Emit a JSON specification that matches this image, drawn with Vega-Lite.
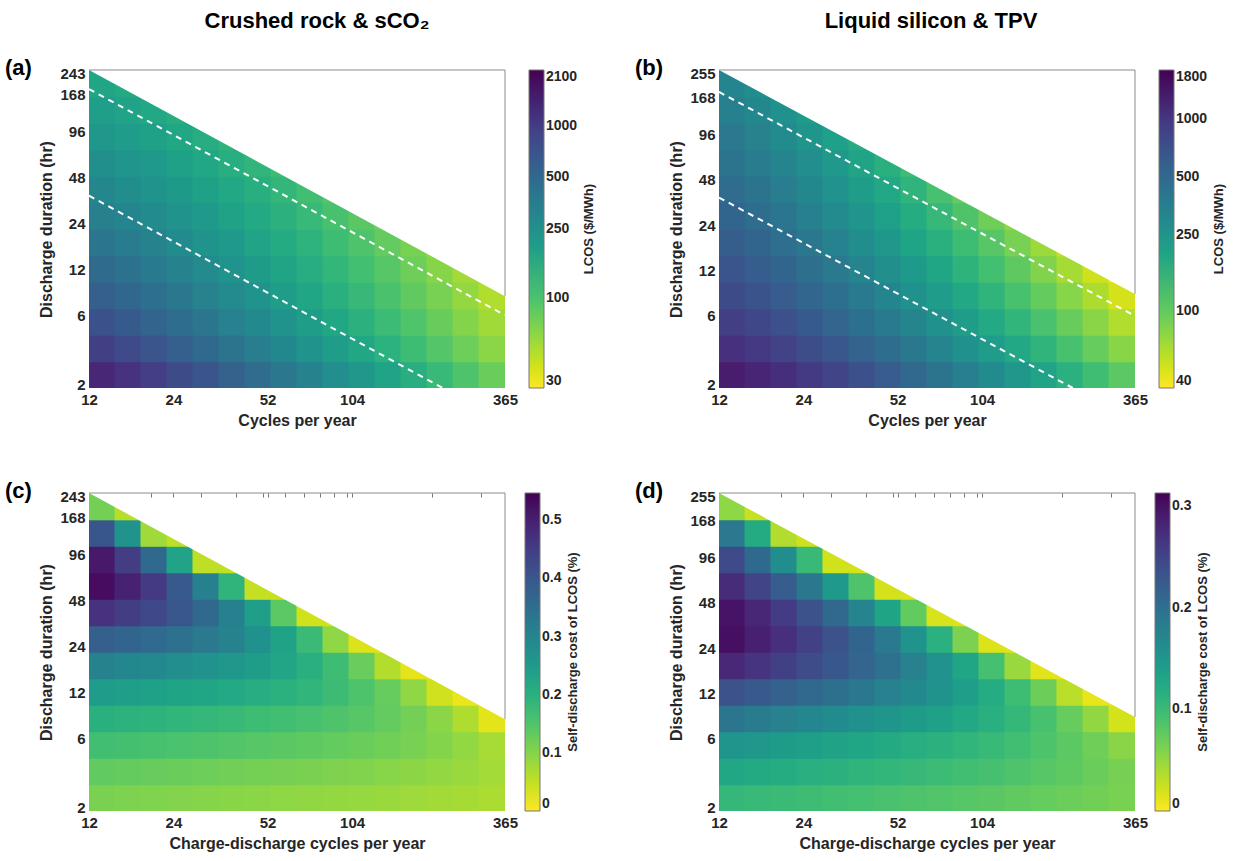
{
"$schema":"https://vega.github.io/schema/vega-lite/v6.json",
"background":"white",
"padding":{"left":5,"top":10,"right":5,"bottom":5},
"config":{
 "font":"Liberation Sans",
 "view":{"stroke":null},
 "axis":{"grid":false,"domain":false,"ticks":false,"labelFontSize":15,"labelFontWeight":"bold","labelColor":"#262626","titleFontSize":16,"titleFontWeight":"bold","titleColor":"#262626","labelPadding":4,"titlePadding":5,"labelFlush":false,"labelOverlap":false},
 "axisY":{"labelFlush":true,"labelFlushOffset":4},
 "legend":{"gradientLength":318,"gradientThickness":15,"gradientStrokeColor":"#777","gradientStrokeWidth":1,"labelFontSize":14,"labelFontWeight":"bold","labelColor":"#262626","labelOffset":4,"labelOverlap":false,"titleOrient":"right","titleAnchor":"middle","titleFontSize":13,"titleFontWeight":"bold","titleColor":"#262626","titlePadding":6,"titleLimit":400,"offset":20},
 "title":{"font":"Liberation Sans","color":"#000"}
},
"spacing":38,
"resolve":{"scale":{"color":"independent"},"legend":{"color":"independent"}},
"hconcat":[
 {"title":{"text":"Crushed rock & sCO₂","anchor":"middle","fontSize":22,"fontWeight":"bold","offset":24,"dx":16},
  "spacing":52,
  "resolve":{"scale":{"color":"independent"},"legend":{"color":"independent"}},
  "vconcat":[
   {"title":{"text":"(a)","anchor":"start","frame":"group","dx":-84,"offset":-14,"fontSize":22,"fontWeight":"bold"},
    "width":416,"height":318,
    "layer":[
     {"data":{"name":"a"},"mark":{"type":"rect","width":27,"height":28,"clip":true},
      "encoding":{
       "x":{"field":"c","type":"quantitative","scale":{"type":"log","domain":[12,365],"nice":false},"axis":{"values":[12,24,52,104,365],"title":"Cycles per year"}},
       "y":{"field":"d","type":"quantitative","scale":{"type":"log","domain":[2,243.3],"nice":false},"axis":{"values":[2,6,12,24,48,96,168,243],"title":"Discharge duration (hr)"}},
       "color":{"field":"v","type":"quantitative","scale":{"type":"log","domain":[30,2100],"scheme":"viridis","reverse":true},"legend":{"title":"LCOS ($/MWh)","values":[30,100,250,500,1000,2100],"format":"d","encode":{"title":{"update":{"angle":{"value":270},"baseline":{"value":"top"},"align":{"value":"center"}}}}}}}},
     {"data":{"name":"ma"},"mark":{"type":"area","color":"white"},
      "encoding":{"x":{"field":"c","type":"quantitative","axis":null},"y":{"field":"d","type":"quantitative","axis":null},"y2":{"datum":243.3}}},
     {"data":{"name":"dl"},"mark":{"type":"line","color":"white","strokeDash":[6,5],"strokeWidth":2},
      "encoding":{"x":{"field":"c","type":"quantitative","axis":null},"y":{"field":"d","type":"quantitative","axis":null},"detail":{"field":"g"}}},
     {"data":{"name":"fa"},"mark":{"type":"rule","color":"#8c8c8c","strokeWidth":1},
      "encoding":{"x":{"field":"c","type":"quantitative","axis":null},"x2":{"field":"c2"},"y":{"field":"d","type":"quantitative","axis":null},"y2":{"field":"d2"}}}
    ],
    "resolve":{"axis":{"x":"independent","y":"independent"}}},
   {"title":{"text":"(c)","anchor":"start","frame":"group","dx":-84,"offset":-14,"fontSize":22,"fontWeight":"bold"},
    "width":416,"height":318,
    "layer":[
     {"data":{"name":"c"},"mark":{"type":"rect","width":27,"height":28,"clip":true},
      "encoding":{
       "x":{"field":"c","type":"quantitative","scale":{"type":"log","domain":[12,365],"nice":false},"axis":{"values":[12,24,52,104,365],"title":"Charge-discharge cycles per year"}},
       "y":{"field":"d","type":"quantitative","scale":{"type":"log","domain":[2,243.3],"nice":false},"axis":{"values":[2,6,12,24,48,96,168,243],"title":"Discharge duration (hr)"}},
       "color":{"field":"v","type":"quantitative","scale":{"domain":[0,0.547],"scheme":"viridis","reverse":true},"legend":{"title":"Self-discharge cost of LCOS (%)","values":[0,0.1,0.2,0.3,0.4,0.5],"format":".1~f","encode":{"title":{"update":{"angle":{"value":270},"baseline":{"value":"top"},"align":{"value":"center"}}}}}}}},
     {"data":{"name":"ma"},"mark":{"type":"area","color":"white"},
      "encoding":{"x":{"field":"c","type":"quantitative","axis":null},"y":{"field":"d","type":"quantitative","axis":null},"y2":{"datum":243.3}}},
     {"data":{"name":"fa"},"mark":{"type":"rule","color":"#8c8c8c","strokeWidth":1},
      "encoding":{"x":{"field":"c","type":"quantitative","axis":{"orient":"top","values":[20,24,30,40,50,52,60,70,80,90,100,104,200,300],"labels":false,"domain":false,"ticks":true,"tickSize":-4,"tickColor":"#777","title":null,"zindex":1}},"x2":{"field":"c2"},"y":{"field":"d","type":"quantitative","axis":null},"y2":{"field":"d2"}}}
    ],
    "resolve":{"axis":{"x":"independent","y":"independent"}}}
  ]},
 {"title":{"text":"Liquid silicon & TPV","anchor":"middle","fontSize":22,"fontWeight":"bold","offset":24,"dx":0},
  "spacing":52,
  "resolve":{"scale":{"color":"independent"},"legend":{"color":"independent"}},
  "vconcat":[
   {"title":{"text":"(b)","anchor":"start","frame":"group","dx":-84,"offset":-14,"fontSize":22,"fontWeight":"bold"},
    "width":416,"height":318,
    "layer":[
     {"data":{"name":"b"},"mark":{"type":"rect","width":27,"height":28,"clip":true},
      "encoding":{
       "x":{"field":"c","type":"quantitative","scale":{"type":"log","domain":[12,365],"nice":false},"axis":{"values":[12,24,52,104,365],"title":"Cycles per year"}},
       "y":{"field":"d","type":"quantitative","scale":{"type":"log","domain":[2,255],"nice":false},"axis":{"values":[2,6,12,24,48,96,168,255],"title":"Discharge duration (hr)"}},
       "color":{"field":"v","type":"quantitative","scale":{"type":"log","domain":[40,1800],"scheme":"viridis","reverse":true},"legend":{"title":"LCOS ($/MWh)","values":[40,100,250,500,1000,1800],"format":"d","encode":{"title":{"update":{"angle":{"value":270},"baseline":{"value":"top"},"align":{"value":"center"}}}}}}}},
     {"data":{"name":"mb"},"mark":{"type":"area","color":"white"},
      "encoding":{"x":{"field":"c","type":"quantitative","axis":null},"y":{"field":"d","type":"quantitative","axis":null},"y2":{"datum":255}}},
     {"data":{"name":"dl"},"mark":{"type":"line","color":"white","strokeDash":[6,5],"strokeWidth":2},
      "encoding":{"x":{"field":"c","type":"quantitative","axis":null},"y":{"field":"d","type":"quantitative","axis":null},"detail":{"field":"g"}}},
     {"data":{"name":"fb"},"mark":{"type":"rule","color":"#8c8c8c","strokeWidth":1},
      "encoding":{"x":{"field":"c","type":"quantitative","axis":null},"x2":{"field":"c2"},"y":{"field":"d","type":"quantitative","axis":null},"y2":{"field":"d2"}}}
    ],
    "resolve":{"axis":{"x":"independent","y":"independent"}}},
   {"title":{"text":"(d)","anchor":"start","frame":"group","dx":-84,"offset":-14,"fontSize":22,"fontWeight":"bold"},
    "width":416,"height":318,
    "layer":[
     {"data":{"name":"d"},"mark":{"type":"rect","width":27,"height":28,"clip":true},
      "encoding":{
       "x":{"field":"c","type":"quantitative","scale":{"type":"log","domain":[12,365],"nice":false},"axis":{"values":[12,24,52,104,365],"title":"Charge-discharge cycles per year"}},
       "y":{"field":"d","type":"quantitative","scale":{"type":"log","domain":[2,255],"nice":false},"axis":{"values":[2,6,12,24,48,96,168,255],"title":"Discharge duration (hr)"}},
       "color":{"field":"v","type":"quantitative","scale":{"domain":[0,0.313],"scheme":"viridis","reverse":true},"legend":{"title":"Self-discharge cost of LCOS (%)","values":[0,0.1,0.2,0.3],"format":".1~f","encode":{"title":{"update":{"angle":{"value":270},"baseline":{"value":"top"},"align":{"value":"center"}}}}}}}},
     {"data":{"name":"mb"},"mark":{"type":"area","color":"white"},
      "encoding":{"x":{"field":"c","type":"quantitative","axis":null},"y":{"field":"d","type":"quantitative","axis":null},"y2":{"datum":255}}},
     {"data":{"name":"fb"},"mark":{"type":"rule","color":"#8c8c8c","strokeWidth":1},
      "encoding":{"x":{"field":"c","type":"quantitative","axis":{"orient":"top","values":[20,24,30,40,50,52,60,70,80,90,100,104,200,300],"labels":false,"domain":false,"ticks":true,"tickSize":-4,"tickColor":"#777","title":null,"zindex":1}},"x2":{"field":"c2"},"y":{"field":"d","type":"quantitative","axis":null},"y2":{"field":"d2"}}}
    ],
    "resolve":{"axis":{"x":"independent","y":"independent"}}}
  ]}
],
"datasets":{
"ma":[{"c":12,"d":243.3},{"c":365,"d":8}],
"mb":[{"c":12,"d":255},{"c":365,"d":8.384}],
"fa":[{"c":12,"c2":365,"d":243.3,"d2":243.3},{"c":365,"c2":365,"d":8,"d2":243.3}],
"fb":[{"c":12,"c2":365,"d":255,"d2":255},{"c":365,"c2":365,"d":8.384,"d2":255}],
"dl":[{"c":12,"d":182.5,"g":1},{"c":365,"d":6,"g":1},{"c":12,"d":36.5,"g":2},{"c":219,"d":2,"g":2}],
"a":[
{"c":13.35,"d":2.443,"v":1344},{"c":13.35,"d":3.644,"v":950},{"c":13.35,"d":5.437,"v":734},{"c":13.35,"d":8.111,"v":589},{"c":13.35,"d":12.1,"v":486},{"c":13.35,"d":18.05,"v":407},{"c":13.35,"d":26.93,"v":344},{"c":13.35,"d":40.17,"v":295},{"c":13.35,"d":59.93,"v":255},{"c":13.35,"d":89.4,"v":222},{"c":13.35,"d":133.4,"v":194},{"c":13.35,"d":199,"v":171},
{"c":16.53,"d":2.443,"v":1150},{"c":16.53,"d":3.644,"v":819},{"c":16.53,"d":5.437,"v":638},{"c":16.53,"d":8.111,"v":516},{"c":16.53,"d":12.1,"v":428},{"c":16.53,"d":18.05,"v":361},{"c":16.53,"d":26.93,"v":309},{"c":16.53,"d":40.17,"v":267},{"c":16.53,"d":59.93,"v":233},{"c":16.53,"d":89.4,"v":204},{"c":16.53,"d":133.4,"v":180},{"c":16.53,"d":199,"v":160},
{"c":20.46,"d":2.443,"v":975},{"c":20.46,"d":3.644,"v":699},{"c":20.46,"d":5.437,"v":549},{"c":20.46,"d":8.111,"v":447},{"c":20.46,"d":12.1,"v":374},{"c":20.46,"d":18.05,"v":318},{"c":20.46,"d":26.93,"v":274},{"c":20.46,"d":40.17,"v":239},{"c":20.46,"d":59.93,"v":210},{"c":20.46,"d":89.4,"v":185},{"c":20.46,"d":133.4,"v":164},
{"c":25.33,"d":2.443,"v":818},{"c":25.33,"d":3.644,"v":592},{"c":25.33,"d":5.437,"v":468},{"c":25.33,"d":8.111,"v":384},{"c":25.33,"d":12.1,"v":324},{"c":25.33,"d":18.05,"v":278},{"c":25.33,"d":26.93,"v":241},{"c":25.33,"d":40.17,"v":212},{"c":25.33,"d":59.93,"v":187},{"c":25.33,"d":89.4,"v":167},{"c":25.33,"d":133.4,"v":149},
{"c":31.35,"d":2.443,"v":685},{"c":31.35,"d":3.644,"v":499},{"c":31.35,"d":5.437,"v":398},{"c":31.35,"d":8.111,"v":329},{"c":31.35,"d":12.1,"v":280},{"c":31.35,"d":18.05,"v":242},{"c":31.35,"d":26.93,"v":211},{"c":31.35,"d":40.17,"v":187},{"c":31.35,"d":59.93,"v":167},{"c":31.35,"d":89.4,"v":149},
{"c":38.81,"d":2.443,"v":570},{"c":38.81,"d":3.644,"v":418},{"c":38.81,"d":5.437,"v":335},{"c":38.81,"d":8.111,"v":280},{"c":38.81,"d":12.1,"v":240},{"c":38.81,"d":18.05,"v":209},{"c":38.81,"d":26.93,"v":184},{"c":38.81,"d":40.17,"v":164},{"c":38.81,"d":59.93,"v":147},{"c":38.81,"d":89.4,"v":133},
{"c":48.05,"d":2.443,"v":473},{"c":48.05,"d":3.644,"v":350},{"c":48.05,"d":5.437,"v":283},{"c":48.05,"d":8.111,"v":238},{"c":48.05,"d":12.1,"v":206},{"c":48.05,"d":18.05,"v":180},{"c":48.05,"d":26.93,"v":160},{"c":48.05,"d":40.17,"v":144},{"c":48.05,"d":59.93,"v":130},
{"c":59.48,"d":2.443,"v":391},{"c":59.48,"d":3.644,"v":291},{"c":59.48,"d":5.437,"v":238},{"c":59.48,"d":8.111,"v":201},{"c":59.48,"d":12.1,"v":175},{"c":59.48,"d":18.05,"v":155},{"c":59.48,"d":26.93,"v":139},{"c":59.48,"d":40.17,"v":126},{"c":59.48,"d":59.93,"v":115},
{"c":73.63,"d":2.443,"v":322},{"c":73.63,"d":3.644,"v":243},{"c":73.63,"d":5.437,"v":199},{"c":73.63,"d":8.111,"v":170},{"c":73.63,"d":12.1,"v":149},{"c":73.63,"d":18.05,"v":133},{"c":73.63,"d":26.93,"v":120},{"c":73.63,"d":40.17,"v":109},
{"c":91.15,"d":2.443,"v":265},{"c":91.15,"d":3.644,"v":201},{"c":91.15,"d":5.437,"v":166},{"c":91.15,"d":8.111,"v":143},{"c":91.15,"d":12.1,"v":127},{"c":91.15,"d":18.05,"v":114},{"c":91.15,"d":26.93,"v":103},{"c":91.15,"d":40.17,"v":95},
{"c":112.8,"d":2.443,"v":218},{"c":112.8,"d":3.644,"v":167},{"c":112.8,"d":5.437,"v":139},{"c":112.8,"d":8.111,"v":121},{"c":112.8,"d":12.1,"v":107},{"c":112.8,"d":18.05,"v":97},{"c":112.8,"d":26.93,"v":89},
{"c":139.7,"d":2.443,"v":179},{"c":139.7,"d":3.644,"v":138},{"c":139.7,"d":5.437,"v":116},{"c":139.7,"d":8.111,"v":101},{"c":139.7,"d":12.1,"v":91},{"c":139.7,"d":18.05,"v":83},{"c":139.7,"d":26.93,"v":76.5},
{"c":172.9,"d":2.443,"v":147},{"c":172.9,"d":3.644,"v":114},{"c":172.9,"d":5.437,"v":96},{"c":172.9,"d":8.111,"v":85},{"c":172.9,"d":12.1,"v":77},{"c":172.9,"d":18.05,"v":70.5},
{"c":214,"d":2.443,"v":119},{"c":214,"d":3.644,"v":93},{"c":214,"d":5.437,"v":80},{"c":214,"d":8.111,"v":71},{"c":214,"d":12.1,"v":64.5},{"c":214,"d":18.05,"v":59.7},
{"c":265,"d":2.443,"v":98},{"c":265,"d":3.644,"v":77},{"c":265,"d":5.437,"v":66},{"c":265,"d":8.111,"v":59},{"c":265,"d":12.1,"v":54},
{"c":328,"d":2.443,"v":79},{"c":328,"d":3.644,"v":63},{"c":328,"d":5.437,"v":54.7},{"c":328,"d":8.111,"v":49}
],
"b":[
{"c":13.35,"d":2.448,"v":1352},{"c":13.35,"d":3.666,"v":1066},{"c":13.35,"d":5.491,"v":893},{"c":13.35,"d":8.225,"v":767},{"c":13.35,"d":12.32,"v":670},{"c":13.35,"d":18.45,"v":592},{"c":13.35,"d":27.63,"v":528},{"c":13.35,"d":41.39,"v":474},{"c":13.35,"d":62,"v":428},{"c":13.35,"d":92.86,"v":388},{"c":13.35,"d":139.1,"v":353},{"c":13.35,"d":208.3,"v":323},
{"c":16.53,"d":2.448,"v":1229},{"c":16.53,"d":3.666,"v":966},{"c":16.53,"d":5.491,"v":805},{"c":16.53,"d":8.225,"v":689},{"c":16.53,"d":12.32,"v":600},{"c":16.53,"d":18.45,"v":529},{"c":16.53,"d":27.63,"v":469},{"c":16.53,"d":41.39,"v":420},{"c":16.53,"d":62,"v":378},{"c":16.53,"d":92.86,"v":341},{"c":16.53,"d":139.1,"v":309},{"c":16.53,"d":208.3,"v":282},
{"c":20.46,"d":2.448,"v":1094},{"c":20.46,"d":3.666,"v":856},{"c":20.46,"d":5.491,"v":712},{"c":20.46,"d":8.225,"v":607},{"c":20.46,"d":12.32,"v":527},{"c":20.46,"d":18.45,"v":462},{"c":20.46,"d":27.63,"v":409},{"c":20.46,"d":41.39,"v":364},{"c":20.46,"d":62,"v":327},{"c":20.46,"d":92.86,"v":294},{"c":20.46,"d":139.1,"v":266},
{"c":25.33,"d":2.448,"v":957},{"c":25.33,"d":3.666,"v":746},{"c":25.33,"d":5.491,"v":618},{"c":25.33,"d":8.225,"v":525},{"c":25.33,"d":12.32,"v":454},{"c":25.33,"d":18.45,"v":397},{"c":25.33,"d":27.63,"v":350},{"c":25.33,"d":41.39,"v":311},{"c":25.33,"d":62,"v":278},{"c":25.33,"d":92.86,"v":249},{"c":25.33,"d":139.1,"v":224},
{"c":31.35,"d":2.448,"v":829},{"c":31.35,"d":3.666,"v":644},{"c":31.35,"d":5.491,"v":532},{"c":31.35,"d":8.225,"v":450},{"c":31.35,"d":12.32,"v":388},{"c":31.35,"d":18.45,"v":338},{"c":31.35,"d":27.63,"v":297},{"c":31.35,"d":41.39,"v":263},{"c":31.35,"d":62,"v":234},{"c":31.35,"d":92.86,"v":209},
{"c":38.81,"d":2.448,"v":709},{"c":38.81,"d":3.666,"v":549},{"c":38.81,"d":5.491,"v":452},{"c":38.81,"d":8.225,"v":381},{"c":38.81,"d":12.32,"v":327},{"c":38.81,"d":18.45,"v":284},{"c":38.81,"d":27.63,"v":249},{"c":38.81,"d":41.39,"v":219},{"c":38.81,"d":62,"v":194.5},{"c":38.81,"d":92.86,"v":173},
{"c":48.05,"d":2.448,"v":603},{"c":48.05,"d":3.666,"v":466},{"c":48.05,"d":5.491,"v":381},{"c":48.05,"d":8.225,"v":321},{"c":48.05,"d":12.32,"v":274},{"c":48.05,"d":18.45,"v":237},{"c":48.05,"d":27.63,"v":207},{"c":48.05,"d":41.39,"v":182},{"c":48.05,"d":62,"v":161},
{"c":59.48,"d":2.448,"v":508},{"c":59.48,"d":3.666,"v":390},{"c":59.48,"d":5.491,"v":319},{"c":59.48,"d":8.225,"v":267},{"c":59.48,"d":12.32,"v":228},{"c":59.48,"d":18.45,"v":196},{"c":59.48,"d":27.63,"v":171},{"c":59.48,"d":41.39,"v":149},{"c":59.48,"d":62,"v":131},
{"c":73.63,"d":2.448,"v":426},{"c":73.63,"d":3.666,"v":326},{"c":73.63,"d":5.491,"v":266},{"c":73.63,"d":8.225,"v":222},{"c":73.63,"d":12.32,"v":188},{"c":73.63,"d":18.45,"v":162},{"c":73.63,"d":27.63,"v":140},{"c":73.63,"d":41.39,"v":122},
{"c":91.15,"d":2.448,"v":354},{"c":91.15,"d":3.666,"v":270},{"c":91.15,"d":5.491,"v":219},{"c":91.15,"d":8.225,"v":182},{"c":91.15,"d":12.32,"v":154},{"c":91.15,"d":18.45,"v":132},{"c":91.15,"d":27.63,"v":114},{"c":91.15,"d":41.39,"v":99},
{"c":112.8,"d":2.448,"v":293},{"c":112.8,"d":3.666,"v":223},{"c":112.8,"d":5.491,"v":180},{"c":112.8,"d":8.225,"v":149},{"c":112.8,"d":12.32,"v":126},{"c":112.8,"d":18.45,"v":107.5},{"c":112.8,"d":27.63,"v":92},
{"c":139.7,"d":2.448,"v":241},{"c":139.7,"d":3.666,"v":183},{"c":139.7,"d":5.491,"v":147},{"c":139.7,"d":8.225,"v":121},{"c":139.7,"d":12.32,"v":102},{"c":139.7,"d":18.45,"v":86.7},{"c":139.7,"d":27.63,"v":74.3},
{"c":172.9,"d":2.448,"v":197},{"c":172.9,"d":3.666,"v":149},{"c":172.9,"d":5.491,"v":119.5},{"c":172.9,"d":8.225,"v":98.3},{"c":172.9,"d":12.32,"v":82.3},{"c":172.9,"d":18.45,"v":69.8},
{"c":214,"d":2.448,"v":160},{"c":214,"d":3.666,"v":120.7},{"c":214,"d":5.491,"v":96.5},{"c":214,"d":8.225,"v":79.1},{"c":214,"d":12.32,"v":66},{"c":214,"d":18.45,"v":55.7},
{"c":265,"d":2.448,"v":130},{"c":265,"d":3.666,"v":97.7},{"c":265,"d":5.491,"v":77.9},{"c":265,"d":8.225,"v":63.5},{"c":265,"d":12.32,"v":52.9},
{"c":328,"d":2.448,"v":105},{"c":328,"d":3.666,"v":78.5},{"c":328,"d":5.491,"v":62.3},{"c":328,"d":8.225,"v":50.7},{"c":328,"d":12.32,"v":42}
],
"c":[
{"c":13.35,"d":2.443,"v":0.109},{"c":13.35,"d":3.644,"v":0.133},{"c":13.35,"d":5.437,"v":0.167},{"c":13.35,"d":8.111,"v":0.201},{"c":13.35,"d":12.1,"v":0.247},{"c":13.35,"d":18.05,"v":0.305},{"c":13.35,"d":26.93,"v":0.382},{"c":13.35,"d":40.17,"v":0.469},{"c":13.35,"d":59.93,"v":0.531},{"c":13.35,"d":89.4,"v":0.514},{"c":13.35,"d":133.4,"v":0.401},{"c":13.35,"d":199,"v":0.115},
{"c":16.53,"d":2.443,"v":0.107},{"c":16.53,"d":3.644,"v":0.130},{"c":16.53,"d":5.437,"v":0.163},{"c":16.53,"d":8.111,"v":0.196},{"c":16.53,"d":12.1,"v":0.2415},{"c":16.53,"d":18.05,"v":0.297},{"c":16.53,"d":26.93,"v":0.371},{"c":16.53,"d":40.17,"v":0.450},{"c":16.53,"d":59.93,"v":0.498},{"c":16.53,"d":89.4,"v":0.450},{"c":16.53,"d":133.4,"v":0.268},{"c":16.53,"d":199,"v":0.059},
{"c":20.46,"d":2.443,"v":0.104},{"c":20.46,"d":3.644,"v":0.127},{"c":20.46,"d":5.437,"v":0.159},{"c":20.46,"d":8.111,"v":0.1915},{"c":20.46,"d":12.1,"v":0.2356},{"c":20.46,"d":18.05,"v":0.289},{"c":20.46,"d":26.93,"v":0.359},{"c":20.46,"d":40.17,"v":0.428},{"c":20.46,"d":59.93,"v":0.455},{"c":20.46,"d":89.4,"v":0.3615},{"c":20.46,"d":133.4,"v":0.078},
{"c":25.33,"d":2.443,"v":0.102},{"c":25.33,"d":3.644,"v":0.124},{"c":25.33,"d":5.437,"v":0.155},{"c":25.33,"d":8.111,"v":0.187},{"c":25.33,"d":12.1,"v":0.229},{"c":25.33,"d":18.05,"v":0.280},{"c":25.33,"d":26.93,"v":0.344},{"c":25.33,"d":40.17,"v":0.400},{"c":25.33,"d":59.93,"v":0.395},{"c":25.33,"d":89.4,"v":0.2305},{"c":25.33,"d":133.4,"v":0.055},
{"c":31.35,"d":2.443,"v":0.0995},{"c":31.35,"d":3.644,"v":0.121},{"c":31.35,"d":5.437,"v":0.1516},{"c":31.35,"d":8.111,"v":0.182},{"c":31.35,"d":12.1,"v":0.223},{"c":31.35,"d":18.05,"v":0.270},{"c":31.35,"d":26.93,"v":0.3266},{"c":31.35,"d":40.17,"v":0.364},{"c":31.35,"d":59.93,"v":0.3124},{"c":31.35,"d":89.4,"v":0.053},
{"c":38.81,"d":2.443,"v":0.097},{"c":38.81,"d":3.644,"v":0.118},{"c":38.81,"d":5.437,"v":0.1477},{"c":38.81,"d":8.111,"v":0.177},{"c":38.81,"d":12.1,"v":0.2157},{"c":38.81,"d":18.05,"v":0.2586},{"c":38.81,"d":26.93,"v":0.3038},{"c":38.81,"d":40.17,"v":0.3126},{"c":38.81,"d":59.93,"v":0.190},{"c":38.81,"d":89.4,"v":0.0515},
{"c":48.05,"d":2.443,"v":0.0947},{"c":48.05,"d":3.644,"v":0.115},{"c":48.05,"d":5.437,"v":0.1436},{"c":48.05,"d":8.111,"v":0.1717},{"c":48.05,"d":12.1,"v":0.2077},{"c":48.05,"d":18.05,"v":0.2446},{"c":48.05,"d":26.93,"v":0.274},{"c":48.05,"d":40.17,"v":0.2416},{"c":48.05,"d":59.93,"v":0.047},
{"c":59.48,"d":2.443,"v":0.0922},{"c":59.48,"d":3.644,"v":0.1122},{"c":59.48,"d":5.437,"v":0.1394},{"c":59.48,"d":8.111,"v":0.1658},{"c":59.48,"d":12.1,"v":0.1982},{"c":59.48,"d":18.05,"v":0.2266},{"c":59.48,"d":26.93,"v":0.2327},{"c":59.48,"d":40.17,"v":0.1373},{"c":59.48,"d":59.93,"v":0.0457},
{"c":73.63,"d":2.443,"v":0.0898},{"c":73.63,"d":3.644,"v":0.1093},{"c":73.63,"d":5.437,"v":0.135},{"c":73.63,"d":8.111,"v":0.1593},{"c":73.63,"d":12.1,"v":0.1869},{"c":73.63,"d":18.05,"v":0.2032},{"c":73.63,"d":26.93,"v":0.1756},{"c":73.63,"d":40.17,"v":0.0378},
{"c":91.15,"d":2.443,"v":0.0874},{"c":91.15,"d":3.644,"v":0.1063},{"c":91.15,"d":5.437,"v":0.130},{"c":91.15,"d":8.111,"v":0.1516},{"c":91.15,"d":12.1,"v":0.1723},{"c":91.15,"d":18.05,"v":0.1707},{"c":91.15,"d":26.93,"v":0.0916},{"c":91.15,"d":40.17,"v":0.0367},
{"c":112.8,"d":2.443,"v":0.085},{"c":112.8,"d":3.644,"v":0.1034},{"c":112.8,"d":5.437,"v":0.1247},{"c":112.8,"d":8.111,"v":0.1424},{"c":112.8,"d":12.1,"v":0.1533},{"c":112.8,"d":18.05,"v":0.1258},{"c":112.8,"d":26.93,"v":0.0287},
{"c":139.7,"d":2.443,"v":0.0825},{"c":139.7,"d":3.644,"v":0.0978},{"c":139.7,"d":5.437,"v":0.1185},{"c":139.7,"d":8.111,"v":0.1308},{"c":139.7,"d":12.1,"v":0.1276},{"c":139.7,"d":18.05,"v":0.0618},{"c":139.7,"d":26.93,"v":0.0278},
{"c":172.9,"d":2.443,"v":0.0788},{"c":172.9,"d":3.644,"v":0.0936},{"c":172.9,"d":5.437,"v":0.111},{"c":172.9,"d":8.111,"v":0.1154},{"c":172.9,"d":12.1,"v":0.0909},{"c":172.9,"d":18.05,"v":0.0214},
{"c":214,"d":2.443,"v":0.0756},{"c":214,"d":3.644,"v":0.0886},{"c":214,"d":5.437,"v":0.1014},{"c":214,"d":8.111,"v":0.0946},{"c":214,"d":12.1,"v":0.0391},{"c":214,"d":18.05,"v":0.0208},
{"c":265,"d":2.443,"v":0.072},{"c":265,"d":3.644,"v":0.0825},{"c":265,"d":5.437,"v":0.0886},{"c":265,"d":8.111,"v":0.0649},{"c":265,"d":12.1,"v":0.0163},
{"c":328,"d":2.443,"v":0.068},{"c":328,"d":3.644,"v":0.0749},{"c":328,"d":5.437,"v":0.0716},{"c":328,"d":8.111,"v":0.0232}
],
"d":[
{"c":13.35,"d":2.448,"v":0.1048},{"c":13.35,"d":3.666,"v":0.1263},{"c":13.35,"d":5.491,"v":0.151},{"c":13.35,"d":8.225,"v":0.190},{"c":13.35,"d":12.32,"v":0.2353},{"c":13.35,"d":18.45,"v":0.2787},{"c":13.35,"d":27.63,"v":0.302},{"c":13.35,"d":41.39,"v":0.298},{"c":13.35,"d":62,"v":0.2746},{"c":13.35,"d":92.86,"v":0.2437},{"c":13.35,"d":139.1,"v":0.1865},{"c":13.35,"d":208.3,"v":0.0529},
{"c":16.53,"d":2.448,"v":0.1023},{"c":16.53,"d":3.666,"v":0.1229},{"c":16.53,"d":5.491,"v":0.1463},{"c":16.53,"d":8.225,"v":0.1835},{"c":16.53,"d":12.32,"v":0.2263},{"c":16.53,"d":18.45,"v":0.2667},{"c":16.53,"d":27.63,"v":0.2868},{"c":16.53,"d":41.39,"v":0.2793},{"c":16.53,"d":62,"v":0.2504},{"c":16.53,"d":92.86,"v":0.2072},{"c":16.53,"d":139.1,"v":0.1219},{"c":16.53,"d":208.3,"v":0.0261},
{"c":20.46,"d":2.448,"v":0.0999},{"c":20.46,"d":3.666,"v":0.1195},{"c":20.46,"d":5.491,"v":0.1418},{"c":20.46,"d":8.225,"v":0.1771},{"c":20.46,"d":12.32,"v":0.2173},{"c":20.46,"d":18.45,"v":0.2545},{"c":20.46,"d":27.63,"v":0.2709},{"c":20.46,"d":41.39,"v":0.2588},{"c":20.46,"d":62,"v":0.2222},{"c":20.46,"d":92.86,"v":0.1613},{"c":20.46,"d":139.1,"v":0.0359},
{"c":25.33,"d":2.448,"v":0.0974},{"c":25.33,"d":3.666,"v":0.1161},{"c":25.33,"d":5.491,"v":0.1371},{"c":25.33,"d":8.225,"v":0.1704},{"c":25.33,"d":12.32,"v":0.208},{"c":25.33,"d":18.45,"v":0.2416},{"c":25.33,"d":27.63,"v":0.2536},{"c":25.33,"d":41.39,"v":0.2352},{"c":25.33,"d":62,"v":0.1874},{"c":25.33,"d":92.86,"v":0.1013},{"c":25.33,"d":139.1,"v":0.0229},
{"c":31.35,"d":2.448,"v":0.0949},{"c":31.35,"d":3.666,"v":0.1127},{"c":31.35,"d":5.491,"v":0.1325},{"c":31.35,"d":8.225,"v":0.1638},{"c":31.35,"d":12.32,"v":0.1985},{"c":31.35,"d":18.45,"v":0.228},{"c":31.35,"d":27.63,"v":0.2344},{"c":31.35,"d":41.39,"v":0.2075},{"c":31.35,"d":62,"v":0.1438},{"c":31.35,"d":92.86,"v":0.0216},
{"c":38.81,"d":2.448,"v":0.0924},{"c":38.81,"d":3.666,"v":0.1093},{"c":38.81,"d":5.491,"v":0.1277},{"c":38.81,"d":8.225,"v":0.1569},{"c":38.81,"d":12.32,"v":0.1884},{"c":38.81,"d":18.45,"v":0.2132},{"c":38.81,"d":27.63,"v":0.2122},{"c":38.81,"d":41.39,"v":0.1734},{"c":38.81,"d":62,"v":0.087},{"c":38.81,"d":92.86,"v":0.0202},
{"c":48.05,"d":2.448,"v":0.0899},{"c":48.05,"d":3.666,"v":0.1059},{"c":48.05,"d":5.491,"v":0.1229},{"c":48.05,"d":8.225,"v":0.1499},{"c":48.05,"d":12.32,"v":0.1778},{"c":48.05,"d":18.45,"v":0.1967},{"c":48.05,"d":27.63,"v":0.1862},{"c":48.05,"d":41.39,"v":0.1306},{"c":48.05,"d":62,"v":0.0196},
{"c":59.48,"d":2.448,"v":0.0874},{"c":59.48,"d":3.666,"v":0.1025},{"c":59.48,"d":5.491,"v":0.1179},{"c":59.48,"d":8.225,"v":0.1424},{"c":59.48,"d":12.32,"v":0.1662},{"c":59.48,"d":18.45,"v":0.1778},{"c":59.48,"d":27.63,"v":0.1542},{"c":59.48,"d":41.39,"v":0.0751},{"c":59.48,"d":62,"v":0.0182},
{"c":73.63,"d":2.448,"v":0.085},{"c":73.63,"d":3.666,"v":0.0991},{"c":73.63,"d":5.491,"v":0.1129},{"c":73.63,"d":8.225,"v":0.1345},{"c":73.63,"d":12.32,"v":0.1532},{"c":73.63,"d":18.45,"v":0.1553},{"c":73.63,"d":27.63,"v":0.1139},{"c":73.63,"d":41.39,"v":0.0183},
{"c":91.15,"d":2.448,"v":0.0825},{"c":91.15,"d":3.666,"v":0.0957},{"c":91.15,"d":5.491,"v":0.1074},{"c":91.15,"d":8.225,"v":0.1257},{"c":91.15,"d":12.32,"v":0.1381},{"c":91.15,"d":18.45,"v":0.1277},{"c":91.15,"d":27.63,"v":0.0617},{"c":91.15,"d":41.39,"v":0.017},
{"c":112.8,"d":2.448,"v":0.08},{"c":112.8,"d":3.666,"v":0.0923},{"c":112.8,"d":5.491,"v":0.1016},{"c":112.8,"d":8.225,"v":0.1159},{"c":112.8,"d":12.32,"v":0.1202},{"c":112.8,"d":18.45,"v":0.0929},{"c":112.8,"d":27.63,"v":0.0165},
{"c":139.7,"d":2.448,"v":0.0766},{"c":139.7,"d":3.666,"v":0.0867},{"c":139.7,"d":5.491,"v":0.0951},{"c":139.7,"d":8.225,"v":0.1044},{"c":139.7,"d":12.32,"v":0.098},{"c":139.7,"d":18.45,"v":0.0476},{"c":139.7,"d":27.63,"v":0.0153},
{"c":172.9,"d":2.448,"v":0.0737},{"c":172.9,"d":3.666,"v":0.0822},{"c":172.9,"d":5.491,"v":0.0878},{"c":172.9,"d":8.225,"v":0.0906},{"c":172.9,"d":12.32,"v":0.0698},{"c":172.9,"d":18.45,"v":0.0139},
{"c":214,"d":2.448,"v":0.0706},{"c":214,"d":3.666,"v":0.0771},{"c":214,"d":5.491,"v":0.079},{"c":214,"d":8.225,"v":0.0729},{"c":214,"d":12.32,"v":0.032},{"c":214,"d":18.45,"v":0.0128},
{"c":265,"d":2.448,"v":0.0672},{"c":265,"d":3.666,"v":0.0714},{"c":265,"d":5.491,"v":0.0686},{"c":265,"d":8.225,"v":0.051},{"c":265,"d":12.32,"v":0.0109},
{"c":328,"d":2.448,"v":0.0632},{"c":328,"d":3.666,"v":0.0643},{"c":328,"d":5.491,"v":0.0549},{"c":328,"d":8.225,"v":0.021},{"c":328,"d":12.32,"v":0.0101}
]
}
}
